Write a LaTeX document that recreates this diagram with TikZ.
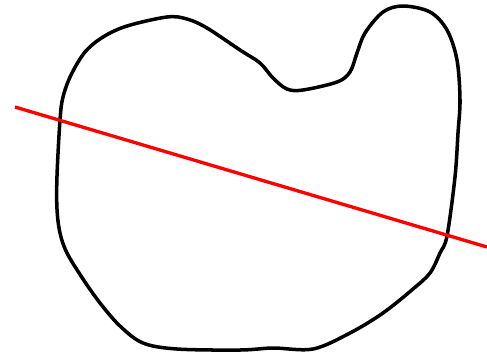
\documentclass[tikz,border=0pt]{standalone}
\usepackage{tikz}
\usetikzlibrary{calc}

\begin{document}
\begin{tikzpicture}[
    x=0.02cm, y=-0.02cm,
    outline/.style={draw=black, line width=2pt, line join=round},
    cutline/.style={draw=red, line width=1.9pt}
]
    \useasboundingbox (0,0) rectangle (487,356);

    \draw[outline] plot[smooth cycle, tension=0.55] coordinates {
        (60,120) (63,97) (71,75) (85,52) (103,37) (127,26) (167,17) (187,19) (207,28)
        (240,50) (260,63) (273,78) (287,89) (303,90) (337,82) (350,72) (357,53)
        (365,33) (383,12) (403,6) (430,12) (447,30) (457,60) (460,100) (458,133)
        (455,177) (447,236) (440,253) (430,273) (413,289) (383,313) (350,333)
        (313,349) (273,348) (240,350) (177,349) (143,343) (120,326) (100,303)
        (83,279) (67,253) (60,233) (57,209) (57,176)};

    \coordinate (cutA) at (15,107);
    \coordinate (cutB) at (487,247);
    \draw[cutline] (cutA) -- (cutB);
\end{tikzpicture}
\end{document}
